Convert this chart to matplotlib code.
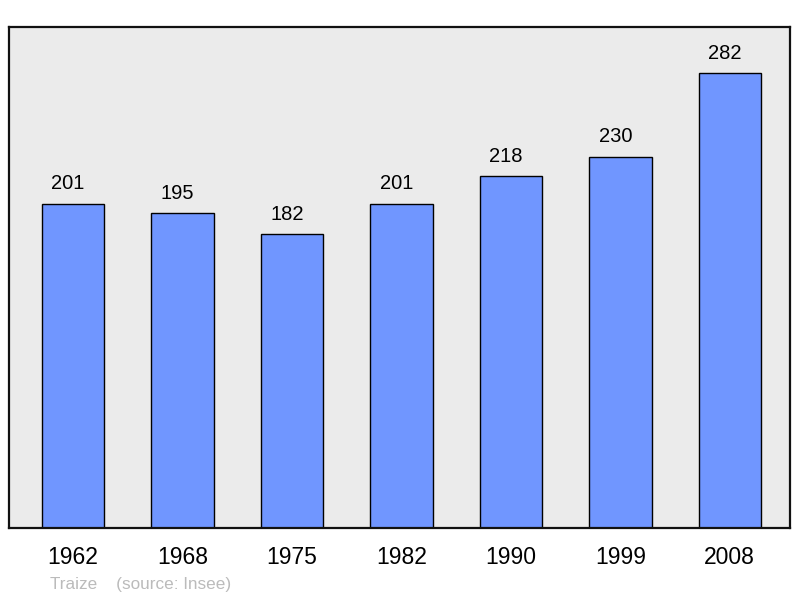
import matplotlib
matplotlib.use("Agg")
import matplotlib.pyplot as plt

years = ["1962", "1968", "1975", "1982", "1990", "1999", "2008"]
population = [201, 195, 182, 201, 218, 230, 282]

plt.rcParams["font.family"] = ["Liberation Sans", "DejaVu Sans"]

fig = plt.figure(figsize=(8, 5.98), dpi=100)
ax = fig.add_axes([9 / 800, 70 / 598, 781 / 800, 501 / 598])
ax.set_facecolor("#ebebeb")

x = list(range(len(years)))
ax.bar(x, population, width=0.57, color="#7096ff", edgecolor="black", linewidth=1.0)
# value labels sit a little left of the bar centre, as in the original
for xi, v in zip(x, population):
    ax.annotate(str(v), (xi, v), xytext=(-3.6, 7.5), textcoords="offset points",
                ha="center", va="bottom", fontsize=14.5)

ax.set_xlim(-0.585, 6.55)
ax.set_ylim(0, 310.5)
ax.set_xticks(x)
ax.set_xticklabels(years, fontsize=16.5)
ax.tick_params(axis="x", length=0, pad=13)
ax.set_yticks([])
for s in ax.spines.values():
    s.set_linewidth(1.6)
    s.set_color("#111111")

fig.text(50 / 800, 1 - 585 / 598, "Traize    (source: Insee)", color="#bbbbbb",
         fontsize=12.3, va="center", ha="left")

fig.savefig("out.png", dpi=100)
